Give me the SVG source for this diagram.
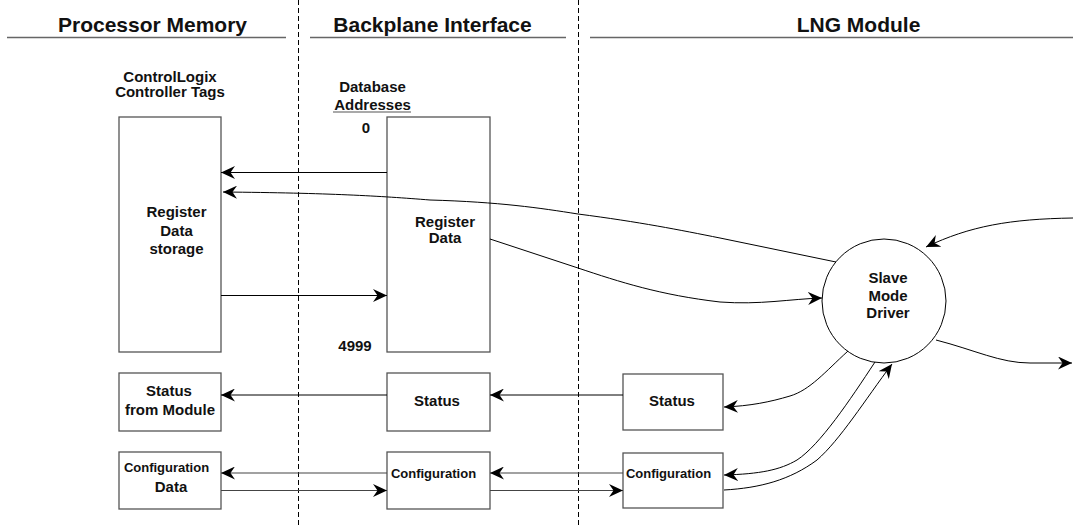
<svg xmlns="http://www.w3.org/2000/svg" width="1073" height="527" viewBox="0 0 1073 527">
<style>
text{font-family:"Liberation Sans",Arial,sans-serif;font-weight:bold;fill:#111;}
.h{font-size:21px;text-anchor:middle;}
.t{font-size:15px;}
.c{text-anchor:middle;}
.s{font-size:13px;}
.box{fill:#fff;stroke:#555;stroke-width:1.3;}
.hl{stroke:#666;stroke-width:1.6;fill:none;}
.dash{stroke:#000;stroke-width:1;stroke-dasharray:5,3;fill:none;}
.cn{fill:none;stroke:#000;stroke-width:1;marker-end:url(#ah);}
.cg{fill:none;stroke:#444;stroke-width:1.2;marker-end:url(#ah);}
</style>
<defs>
<marker id="ah" viewBox="0 0 14 13" refX="14" refY="6.5" markerWidth="14" markerHeight="13" markerUnits="userSpaceOnUse" orient="auto">
<path d="M0,0 L14,6.5 L0,13 L4.5,6.5 Z" fill="#000"/>
</marker>
</defs>
<rect width="1073" height="527" fill="#fff"/>
<g id="sections">
<line class="dash" x1="298.5" y1="0" x2="298.5" y2="527"/>
<line class="dash" x1="578.5" y1="0" x2="578.5" y2="527"/>
<text class="h" x="152.5" y="32">Processor Memory</text>
<line class="hl" x1="7" y1="37.5" x2="286" y2="37.5"/>
<text class="h" x="432.5" y="32">Backplane Interface</text>
<line class="hl" x1="310" y1="37.5" x2="566" y2="37.5"/>
<text class="h" x="858.5" y="32">LNG Module</text>
<line class="hl" x1="590" y1="37.5" x2="1073" y2="37.5"/>
</g>
<g id="controller-tags">
<text class="t c" x="170" y="82">ControlLogix</text>
<text class="t c" x="170" y="97">Controller Tags</text>
<rect class="box" x="119" y="117" width="102" height="235"/>
<text class="t c" x="176.5" y="217">Register</text>
<text class="t c" x="176.5" y="236">Data</text>
<text class="t c" x="176.5" y="254">storage</text>
</g>
<g id="database">
<text class="t c" x="372.5" y="92">Database</text>
<text class="t c" x="372.5" y="110">Addresses</text>
<line x1="333" y1="112" x2="411" y2="112" stroke="#555" stroke-width="1.2"/>
<text class="t c" x="366" y="133">0</text>
<text class="t c" x="355" y="351">4999</text>
<rect class="box" x="387" y="117" width="103" height="235"/>
<text class="t c" x="445" y="227">Register</text>
<text class="t c" x="445" y="243">Data</text>
</g>
<g id="status-left">
<rect class="box" x="119" y="373" width="102" height="58"/>
<text class="t c" x="169" y="396">Status</text>
<text class="t c" x="170" y="415">from Module</text>
</g>
<g id="status-mid">
<rect class="box" x="387" y="373" width="103" height="58"/>
<text class="t c" x="437" y="406">Status</text>
</g>
<g id="status-right">
<rect class="box" x="623" y="374" width="100" height="56"/>
<text class="t c" x="672" y="406">Status</text>
</g>
<g id="config-left">
<rect class="box" x="119" y="452" width="102" height="57"/>
<text class="s c" x="166.5" y="472">Configuration</text>
<text class="t c" x="171" y="492">Data</text>
</g>
<g id="config-mid">
<rect class="box" x="387" y="452" width="103" height="57"/>
<text class="s c" x="433.5" y="478">Configuration</text>
</g>
<g id="config-right">
<rect class="box" x="623" y="453" width="100" height="55"/>
<text class="s c" x="668.5" y="478">Configuration</text>
</g>
<g id="driver">
<circle cx="884" cy="301" r="62" fill="#fff" stroke="#000" stroke-width="1"/>
<text class="t c" x="888" y="283">Slave</text>
<text class="t c" x="888" y="301">Mode</text>
<text class="t c" x="888" y="318">Driver</text>
</g>
<g id="connectors">
<path class="cn" d="M387,172.5 L221,172.5"/>
<path class="cn" d="M836,262 L720,238 C680,230 640,222 578,214 C540,208 500,202 430,200 C380,196 330,193 223,192"/>
<path class="cn" d="M490,239 L578,268 C620,282 660,295 720,302 C760,305 790,299 822,298"/>
<path class="cn" d="M221,295.5 L387,295.5"/>
<path class="cn" d="M1073,218 C1010,219 970,226 926,247"/>
<path class="cn" d="M936,340 C975,350 1000,363 1030,363 L1072,363"/>
<path class="cn" d="M623,395 L490,395"/>
<path class="cn" d="M387,395 L221,395"/>
<path class="cg" d="M387,473 L221,473"/>
<path class="cg" d="M221,490.5 L387,490.5"/>
<path class="cg" d="M623,473 L490,473"/>
<path class="cg" d="M490,490.5 L623,490.5"/>
<path class="cn" d="M848,351 C825,372 810,390 790,396 C770,402 750,406 724,407"/>
<path class="cn" d="M875,362 C850,400 820,445 797,460 C780,470 760,474 724,475"/>
<path class="cn" d="M724,490 C760,488 790,480 817,460 C840,440 865,400 892,364"/>
</g>
</svg>
